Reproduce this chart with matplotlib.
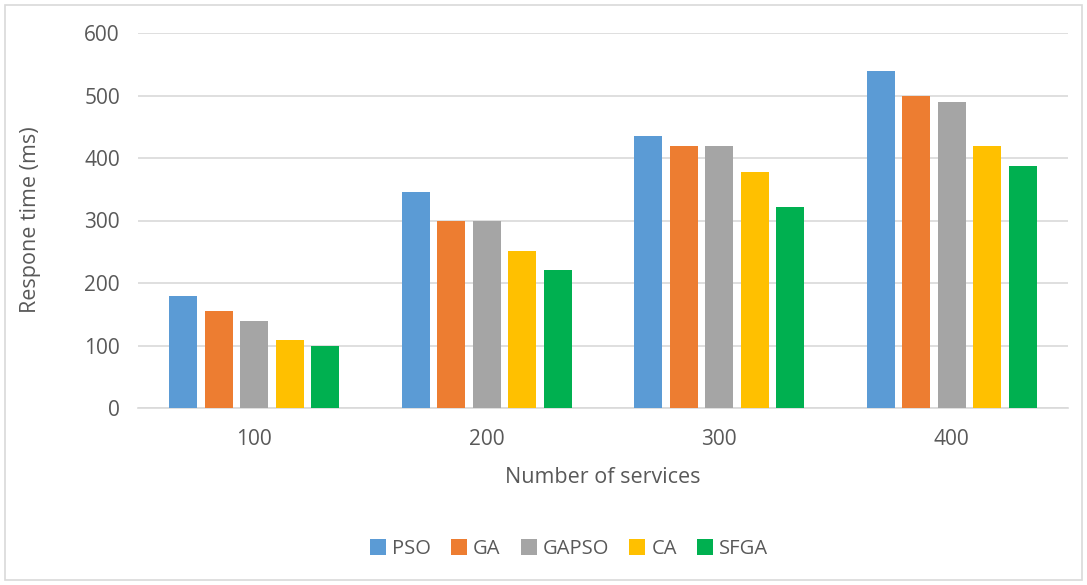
import matplotlib
matplotlib.use("Agg")
import matplotlib.pyplot as plt
import numpy as np
from matplotlib.patches import Rectangle

categories = ["100", "200", "300", "400"]
series_names = ["PSO", "GA", "GAPSO", "CA", "SFGA"]
pso = [179, 345, 436, 540]
ga = [155, 300, 420, 500]
gapso = [139, 300, 420, 489]
ca = [109, 252, 377, 419]
sfga = [100, 221, 321, 388]
yticks = [0, 100, 200, 300, 400, 500, 600]
colors = ["#5B9BD5", "#ED7D31", "#A5A5A5", "#FFC000", "#00B050"]

plt.rcParams['font.family'] = ['Open Sans', 'DejaVu Sans']
W, H = 1087, 585
fig = plt.figure(figsize=(W / 100, H / 100), dpi=100)
fig.patches.append(Rectangle((5 / W, 5 / H), (W - 10) / W, (H - 10) / H,
                             transform=fig.transFigure, fill=False,
                             edgecolor="#D9D9D9", linewidth=1.2))
ax = fig.add_axes([138 / W, 1 - 408 / H, 930 / W, 375 / H])

data = [pso, ga, gapso, ca, sfga]
x = np.arange(len(categories))
step = 0.153
width = 0.12
for i, (vals, c, name) in enumerate(zip(data, colors, series_names)):
    ax.bar(x + (i - 2) * step, vals, width, color=c, label=name, zorder=3)

ax.set_xlim(-0.5, len(categories) - 0.5)
ax.set_ylim(0, 600)
ax.set_yticks(yticks)
ax.set_xticks(x)
ax.set_xticklabels(categories)
ax.grid(axis="y", color="#D9D9D9", linewidth=1.2, zorder=0)
for s in ["top", "right", "left"]:
    ax.spines[s].set_visible(False)
ax.spines["bottom"].set_color("#D9D9D9")
ax.spines["bottom"].set_linewidth(1.2)
ax.tick_params(axis="both", length=0, labelsize=15, colors="#595959")
ax.tick_params(axis="y", pad=13)
ax.tick_params(axis="x", pad=15)
ax.set_ylabel("Respone time (ms)", fontsize=15.5, color="#595959")
ax.set_xlabel("Number of services", fontsize=15.5, color="#595959")
ax.yaxis.set_label_coords((41 - 138) / 930, (408 - 220) / 375)
ax.xaxis.set_label_coords(0.5, (408 - 467) / 375)

leg = ax.legend(loc="center", bbox_to_anchor=((569 - 138) / 930, (408 - 549) / 375),
                ncol=5, frameon=False, fontsize=14.5, handlelength=0.8,
                handleheight=0.8, handletextpad=0.3, columnspacing=1.0)
for t in leg.get_texts():
    t.set_color("#595959")

fig.savefig("out.png", dpi=100)
